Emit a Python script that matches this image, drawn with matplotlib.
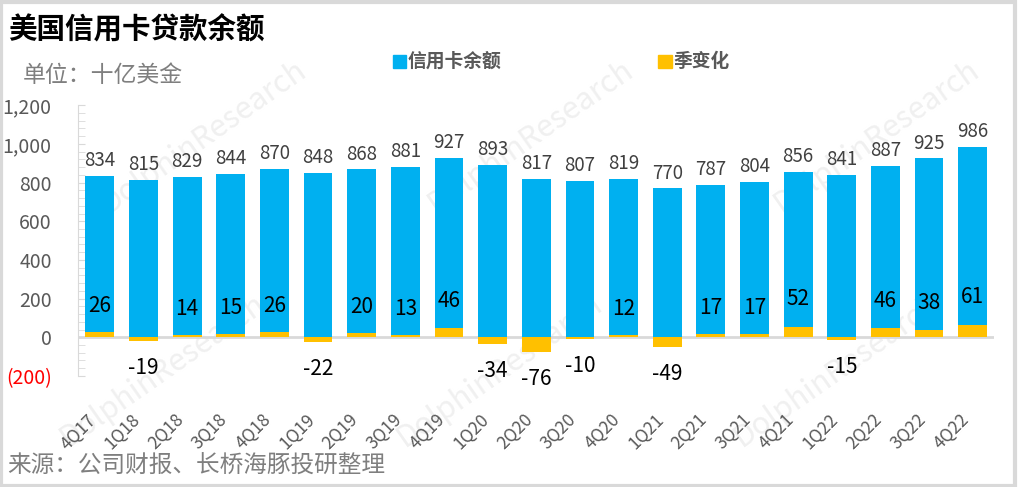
import matplotlib
matplotlib.use("Agg")
import matplotlib.pyplot as plt
from matplotlib.patches import Rectangle
from matplotlib.ticker import MultipleLocator

plt.rcParams['font.family'] = ['Noto Sans CJK SC', 'DejaVu Sans']

quarters = ["4Q17", "1Q18", "2Q18", "3Q18", "4Q18", "1Q19", "2Q19", "3Q19",
            "4Q19", "1Q20", "2Q20", "3Q20", "4Q20", "1Q21", "2Q21", "3Q21",
            "4Q21", "1Q22", "2Q22", "3Q22", "4Q22"]
balance = [834, 815, 829, 844, 870, 848, 868, 881, 927, 893, 817, 807,
           819, 770, 787, 804, 856, 841, 887, 925, 986]
qoq_change = [26, -19, 14, 15, 26, -22, 20, 13, 46, -34, -76, -10,
              12, -49, 17, 17, 52, -15, 46, 38, 61]
yticks = [-200, 0, 200, 400, 600, 800, 1000, 1200]
ylabels = ["(200)", "0", "200", "400", "600", "800", "1,000", "1,200"]

BLUE = "#00B0F0"
YELLOW = "#FFC000"
GRAY = "#595959"

fig = plt.figure(figsize=(10.2, 4.87), dpi=100)
ax = fig.add_axes([0.0765, 0.228, 0.8985, 0.556])
ax.set_zorder(1)
ax.patch.set_visible(False)   # let the watermark show behind the bars

x = list(range(len(quarters)))
ax.bar(x, balance, width=0.66, color=BLUE, zorder=2)
ax.bar(x, qoq_change, width=0.66, color=YELLOW, zorder=3)

# balance labels above bars
for i, v in zip(x, balance):
    ax.text(i, v + 25, f"{v:,}", ha="center", va="bottom", fontsize=13.5, color="#404040")

# quarterly change labels (positive ones inside blue bar, negative below axis)
for i, v in zip(x, qoq_change):
    if v >= 0:
        y = 130 + v * 1.3
    else:
        y = -140 + v * 1.0
    ax.text(i, y, f"{v}", ha="center", va="center", fontsize=15, color="black", zorder=4)

ax.axhline(0, color="#d9d9d9", lw=2, zorder=1)

ax.set_xlim(-0.5, len(quarters) - 0.5)
ax.set_ylim(-200, 1200)
ax.set_yticks(yticks)
ax.set_yticklabels(ylabels)
ax.yaxis.set_minor_locator(MultipleLocator(40))
for lab in ax.get_yticklabels():
    lab.set_color("red" if lab.get_text() == "(200)" else GRAY)
    lab.set_fontsize(14)
ax.tick_params(axis="y", which="both", direction="in", length=5, color="#d9d9d9", pad=19)

ax.set_xticks(x)
ax.set_xticklabels(quarters, rotation=45, ha="right", va="top", fontsize=12.5, color=GRAY)
ax.tick_params(axis="x", length=0, pad=25)

for s in ["top", "right", "bottom"]:
    ax.spines[s].set_visible(False)
ax.spines["left"].set_color("#d9d9d9")

# faint watermarks
for wx, wy in [(0.20, 0.72), (0.52, 0.72), (0.86, 0.72), (0.16, 0.24), (0.49, 0.24), (0.82, 0.24)]:
    fig.text(wx, wy, "DolphinResearch", fontsize=22, color="#f0f0f0", rotation=35,
             ha="center", va="center", zorder=0)

# titles, legend, source
fig.text(0.008, 0.938, "美国信用卡贷款余额", fontsize=20.5, fontweight="bold", color="black", va="center")
fig.text(0.022, 0.845, "单位：十亿美金", fontsize=16.5, color="#7f7f7f", va="center")

fig.patches.append(Rectangle((0.385, 0.860), 0.0135, 0.028, transform=fig.transFigure,
                             color=BLUE, figure=fig))
fig.text(0.400, 0.874, "信用卡余额", fontsize=13.5, fontweight="bold", color=GRAY, va="center")
fig.patches.append(Rectangle((0.645, 0.860), 0.0135, 0.028, transform=fig.transFigure,
                             color=YELLOW, figure=fig))
fig.text(0.660, 0.874, "季变化", fontsize=13.5, fontweight="bold", color=GRAY, va="center")

fig.text(0.007, 0.043, "来源：公司财报、长桥海豚投研整理", fontsize=17, color="#7f7f7f", va="center")

# outer frame
fig.patches.append(Rectangle((0.001, 0.002), 0.994, 0.994, transform=fig.transFigure,
                             fill=False, edgecolor="#d9d9d9", lw=3, figure=fig))

fig.savefig("out.png", dpi=100)
